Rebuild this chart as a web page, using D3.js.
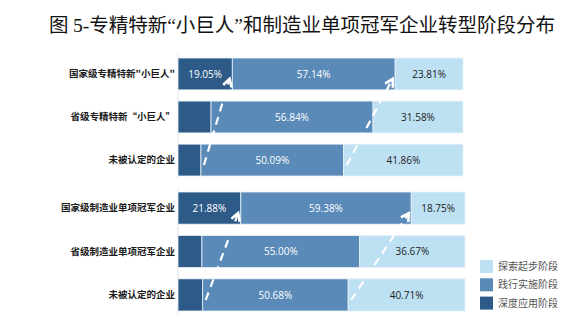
<!DOCTYPE html>
<html>
<head>
<meta charset="utf-8">
<script src="https://cdn.jsdelivr.net/npm/d3@7"></script>
<style>
  html, body { margin: 0; padding: 0; background: #fff; }
  svg { display: block; }
</style>
</head>
<body>
<svg id="chart" width="588" height="324"></svg>
<script>
// Company types, grouped as "little giants" and single-item champions
const groupA = ["国家级专精特新\"小巨人\"", "省级专精特新“小巨人”", "未被认定的企业"];
const groupB = ["国家级制造业单项冠军企业", "省级制造业单项冠军企业", "未被认定的企业"];

// Stage shares (%) per company type: deep application, in practice, exploring
const deepA = [19.05, 11.58, 8.05];
const midA  = [57.14, 56.84, 50.09];
const lightA = [23.81, 31.58, 41.86];

const deepB = [21.88, 8.33, 8.61];
const midB  = [59.38, 55.00, 50.68];
const lightB = [18.75, 36.67, 40.71];

// Which segments carry a printed value
const showDeep = [true, false, false];

const stageNames = ["探索起步阶段", "践行实施阶段", "深度应用阶段"];
const stageColors = ["#bde0f3", "#5a8ab8", "#2d5a87"];

const svg = d3.select("#chart");
const cjk = "'Noto Sans CJK SC', 'Noto Sans', sans-serif";
const num = "'Open Sans', 'Noto Sans', sans-serif";
const serif = "'Liberation Serif', serif";

// Title
const title = svg.append("text")
  .attr("x", 302).attr("y", 32)
  .attr("text-anchor", "middle")
  .style("font-family", cjk)
  .style("font-size", "19.5px")
  .style("fill", "#111");
title.append("tspan").text("图 ");
title.append("tspan").style("font-family", serif).text("5-");
title.append("tspan").text("专精特新");
title.append("tspan").style("font-family", serif).text("“");
title.append("tspan").text("小巨人");
title.append("tspan").style("font-family", serif).text("”");
title.append("tspan").text("和制造业单项冠军企业转型阶段分布");

const defs = svg.append("defs");
defs.append("marker")
  .attr("id", "arrow")
  .attr("viewBox", "0 0 10 10")
  .attr("refX", 7).attr("refY", 5)
  .attr("markerWidth", 5).attr("markerHeight", 5)
  .attr("orient", "auto")
  .append("path")
  .attr("d", "M1,1 L8,5 L1,9")
  .attr("fill", "none")
  .attr("stroke", "#fff")
  .attr("stroke-width", 2.4);

function drawGroup(names, deep, mid, light, x0, x1, yTop, yBottom) {
  const x = d3.scaleLinear().domain([0, 100]).range([x0, x1]);
  const y = d3.scaleBand().domain(names.map((d, i) => i)).range([yTop, yBottom]).paddingInner(0.26).paddingOuter(0);
  const g = svg.append("g");

  // light axis line at the bar origin
  g.append("line")
    .attr("x1", x(0)).attr("x2", x(0))
    .attr("y1", yTop - 4).attr("y2", yBottom + 3)
    .attr("stroke", "#e4e4e4").attr("stroke-width", 1);

  const rows = names.map((n, i) => ({
    i, name: n,
    segs: [
      { key: 2, v0: 0, v1: deep[i], v: deep[i], show: showDeep[i], color: stageColors[2], text: "#fff" },
      { key: 1, v0: deep[i], v1: deep[i] + mid[i], v: mid[i], show: true, color: stageColors[1], text: "#fff" },
      { key: 0, v0: deep[i] + mid[i], v1: 100, v: light[i], show: true, color: stageColors[0], text: "#222" }
    ]
  }));

  const row = g.selectAll("g.row").data(rows).join("g").attr("class", "row");

  row.selectAll("rect").data(d => d.segs.map(s => ({ ...s, i: d.i }))).join("rect")
    .attr("x", s => x(s.v0))
    .attr("y", s => y(s.i))
    .attr("width", s => x(s.v1) - x(s.v0))
    .attr("height", y.bandwidth())
    .attr("fill", s => s.color)
    .attr("stroke", "#e8f2fa")
    .attr("stroke-width", 0.8);

  row.selectAll("text.val").data(d => d.segs.filter(s => s.show).map(s => ({ ...s, i: d.i }))).join("text")
    .attr("class", "val")
    .attr("x", s => (x(s.v0) + x(s.v1)) / 2)
    .attr("y", s => y(s.i) + y.bandwidth() / 2)
    .attr("dy", "0.36em")
    .attr("text-anchor", "middle")
    .style("font-family", num)
    .style("font-size", "10px")
    .style("fill", s => s.text)
    .text(s => s.v.toFixed(2) + "%");

  row.append("text")
    .attr("x", x0 - 3)
    .attr("y", d => y(d.i) + y.bandwidth() / 2)
    .attr("dy", "0.36em")
    .attr("text-anchor", "end")
    .style("font-family", cjk)
    .style("font-size", "9.5px")
    .style("font-weight", "bold")
    .style("fill", "#1a1a1a")
    .text(d => d.name);

  // dashed arrows following the stage boundaries from the bottom row up to the top row
  const bottom = names.length - 1;
  const bounds = [
    [deep[bottom], deep[0]],
    [deep[bottom] + mid[bottom], deep[0] + mid[0]]
  ];
  bounds.forEach(([vb, vt]) => {
    const xs = x(vb) + 3, ys = y(bottom) + y.bandwidth() - 11;
    const xe = x(vt) - 3, ye = y(0) + y.bandwidth() - 10;
    g.append("line")
      .attr("x1", xs).attr("y1", ys)
      .attr("x2", xe).attr("y2", ye)
      .attr("stroke", "#fff")
      .attr("stroke-width", 2.2)
      .attr("stroke-dasharray", "8,6")
      .attr("marker-end", "url(#arrow)");
  });
}

drawGroup(groupA, deepA, midA, lightA, 178, 463, 58, 176);
drawGroup(groupB, deepB, midB, lightB, 178, 465, 192, 311);

// Legend
const legend = svg.append("g");
stageNames.forEach((name, i) => {
  legend.append("rect")
    .attr("x", 480).attr("y", 260 + i * 18.3)
    .attr("width", 13).attr("height", 13)
    .attr("fill", stageColors[i]);
  legend.append("text")
    .attr("x", 498).attr("y", 266.5 + i * 18.3)
    .attr("dy", "0.36em")
    .style("font-family", cjk)
    .style("font-size", "10px")
    .style("fill", "#555")
    .text(name);
});
</script>
</body>
</html>
